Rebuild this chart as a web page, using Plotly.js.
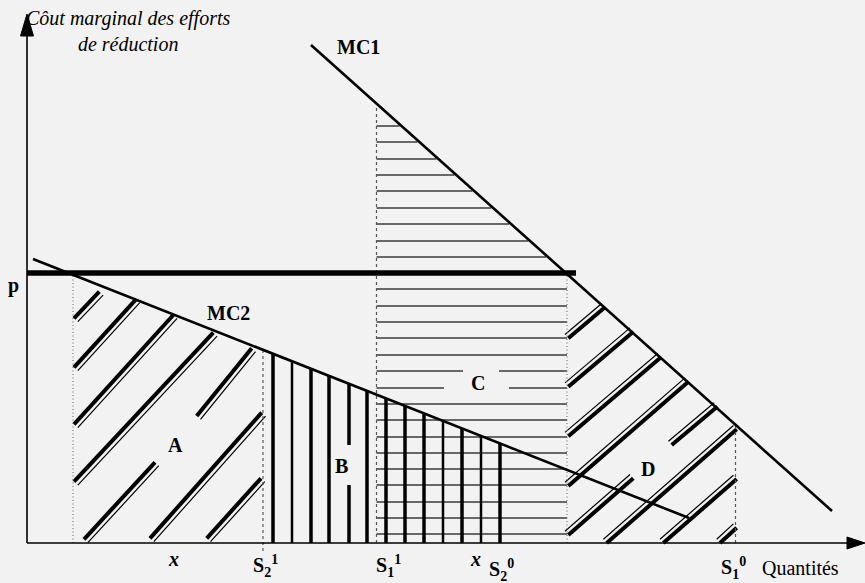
<!DOCTYPE html>
<html>
<head>
<meta charset="utf-8">
<script src="https://cdn.plot.ly/plotly-3.0.1.min.js"></script>
<style>
html,body{margin:0;padding:0;background:#f2f2f2;}
#chart{width:865px;height:583px;}
</style>
</head>
<body>
<div id="chart"></div>
<script>
// ---------- DATA (quantity Q on x, marginal cost C on y) ----------
const mc1Q = [284, 805];
const mc1C = [498, 32];
const mc2Q = [6, 662];
const mc2C = [284, 25];
const priceC = 270;
const priceQ = [0, 549];

const dottedQ = [46, 540];
const dottedTop = [270, 270];
const dashedQ = [236, 349.5, 708.5];
const dashedBottom = [-8, 0, 0];
const dashedTop = [193, 437, 117];

// area C: horizontal hatch levels
const hLevels = [417, 401, 384, 368, 352, 335, 319, 302, 286, 254, 237, 221, 205, 188, 172, 155, 139, 123, 106, 90, 74, 58, 41, 25, 9];
const hGapLevel = [172, 155];
const hGapFrom = [436, 417];
const hGapTo = [472, 482];

// area B: vertical hatch positions
const vQ = [246, 265, 284, 302, 322, 340, 359, 378, 397, 416, 435, 454, 473];
const vWidth = [3.5, 2.5, 3.5, 3.5, 3.5, 3.5, 3.5, 3.5, 3.5, 2.5, 3.5, 2.5, 3.5];
const vGapQ = 322, vGapFrom = 58, vGapTo = 98;

// area A: diagonal hatch segments
const aQ0 = [47, 47, 47, 47, 169.7, 57, 123, 179.7];
const aC0 = [224.7, 175.7, 118.7, 61.3, 127, 3.7, 4.7, 4.7];
const aQ1 = [72.3, 109, 146.3, 186.3, 224.7, 128, 234.7, 234];
const aC1 = [251.3, 243.7, 228, 210.3, 194.7, 80.7, 130.3, 64.7];

// area D: diagonal hatch segments
const dQ0 = [541.3, 541.3, 541.3, 541.3, 644.7, 579.7, 541.3, 636.3, 693];
const dC0 = [204.7, 156.3, 106.8, 57, 98, 0, 8, 0, 0];
const dQ1 = [578, 606.3, 634, 661.3, 690.5, 709.7, 606.3, 709.7, 709.7];
const dC1 = [235.7, 211.3, 185.7, 161.3, 136.5, 113.7, 64.7, 64, 15.3];

// labels
const axisTitleY = 'Côut marginal des efforts<br>de réduction';
const axisTitleX = 'Quantités';
const tickQ = [146, 238, 361, 448, 474, 706];
const tickC = [-16, -23, -23, -16, -27, -25];
const tickText = ['<i>x</i>', 'S<sub>2</sub><sup>1</sup>', 'S<sub>1</sub><sup>1</sup>', '<i>x</i>', 'S<sub>2</sub><sup>0</sup>', 'S<sub>1</sub><sup>0</sup>'];
const areaText = ['A', 'B', 'C', 'D'];
const areaQ = [148, 314.7, 451, 621];
const areaC = [98, 77, 160, 74];

// ---------- helpers ----------
function mc1QAt(c){ return mc1Q[0] + (mc1C[0]-c)*(mc1Q[1]-mc1Q[0])/(mc1C[0]-mc1C[1]); }
function mc2CAt(q){ return mc2C[0] + (q-mc2Q[0])*(mc2C[1]-mc2C[0])/(mc2Q[1]-mc2Q[0]); }

function segTrace(xs, ys, width, color, dash){
  return {type:'scatter', mode:'lines', x:xs, y:ys, hoverinfo:'skip',
    line:{color:color, width:width, dash:dash||'solid'}, connectgaps:false};
}

const traces = [];

// horizontal hatching (area C)
{
  const xs=[], ys=[];
  hLevels.forEach(c=>{
    const right = Math.min(mc1QAt(c)-2, dottedQ[1]);
    const gi = hGapLevel.indexOf(c);
    if(gi>=0){
      xs.push(dashedQ[1], hGapFrom[gi], null, hGapTo[gi], right, null);
      ys.push(c, c, null, c, c, null);
    } else {
      xs.push(dashedQ[1], right, null);
      ys.push(c, c, null);
    }
  });
  traces.push(segTrace(xs, ys, 1.5, '#3a3a3a'));
}

// vertical hatching (area B)
vQ.forEach((q,i)=>{
  const top = mc2CAt(q);
  let xs, ys;
  if(q===vGapQ){ xs=[q,q,null,q,q]; ys=[0,vGapFrom,null,vGapTo,top]; }
  else { xs=[q,q]; ys=[0,top]; }
  traces.push(segTrace(xs, ys, vWidth[i], '#000'));
});

// diagonal hatching helper
function diag(q0,c0,q1,c1,off){
  const tx=[], ty=[], nx=[], ny=[];
  for(let i=0;i<q0.length;i++){
    tx.push(q0[i], q1[i], null); ty.push(c0[i], c1[i], null);
    nx.push(q0[i]+off[0], q1[i]+off[0], null); ny.push(c0[i]+off[1], c1[i]+off[1], null);
  }
  traces.push(segTrace(nx, ny, 1.2, '#000'));
  traces.push(segTrace(tx, ty, 4, '#000'));
}
diag(aQ0,aC0,aQ1,aC1,[3.8,-3.4]);
diag(dQ0,dC0,dQ1,dC1,[-3.3,3.8]);

// reference dotted / dashed verticals
dottedQ.forEach((q,i)=>traces.push(segTrace([q,q],[0,dottedTop[i]],1.2,'#777','1px,2.5px')));
dashedQ.forEach((q,i)=>traces.push(segTrace([q,q],[dashedBottom[i],dashedTop[i]],1.2,'#555','3px,3px')));

// marginal cost curves
traces.push(segTrace(mc1Q, mc1C, 2.6, '#000'));
traces.push(segTrace(mc2Q, mc2C, 2.6, '#000'));
// price line
traces.push(segTrace(priceQ, [priceC, priceC], 5.5, '#000'));

// axes
traces.push(segTrace([0,0],[0,510],1.6,'#000'));
traces.push(segTrace([0,824],[0,0],1.6,'#000'));
traces.push({type:'scatter', mode:'lines', x:[-6.5,6.5,0,-6.5], y:[507,507,529,507], fill:'toself', fillcolor:'#000', line:{color:'#000',width:1}, hoverinfo:'skip'});
traces.push({type:'scatter', mode:'lines', x:[820,820,838,820], y:[-6,6,0,-6], fill:'toself', fillcolor:'#000', line:{color:'#000',width:1}, hoverinfo:'skip'});

const serif = 'Liberation Serif, Times New Roman, serif';
const ann = [];
function txt(q,c,t,size,opts){
  ann.push(Object.assign({x:q, y:c, xref:'x', yref:'y', text:t, showarrow:false,
    xanchor:'center', yanchor:'middle', font:{family:serif, size:size, color:'#000'}}, opts||{}));
}
txt(100.5, 512.5, '<i>'+axisTitleY+'</i>', 20, {align:'center'});
txt(331.5, 496.5, '<b>MC1</b>', 20);
txt(201, 230.5, '<b>MC2</b>', 20);
txt(-14, 258, '<b>p</b>', 20);
areaText.forEach((t,i)=>txt(areaQ[i], areaC[i], '<b>'+t+'</b>', 20));
tickText.forEach((t,i)=>txt(tickQ[i], tickC[i], '<b>'+t+'</b>', 20));
txt(773, -25, axisTitleX, 20);

const layout = {
  width:865, height:583, margin:{l:0,r:0,t:0,b:0,pad:0},
  paper_bgcolor:'#f2f2f2', plot_bgcolor:'#f2f2f2', showlegend:false,
  xaxis:{range:[-27,838], visible:false, fixedrange:true},
  yaxis:{range:[-40,543], visible:false, fixedrange:true},
  annotations: ann
};
Plotly.newPlot('chart', traces, layout, {staticPlot:true, displayModeBar:false});
</script>
</body>
</html>
